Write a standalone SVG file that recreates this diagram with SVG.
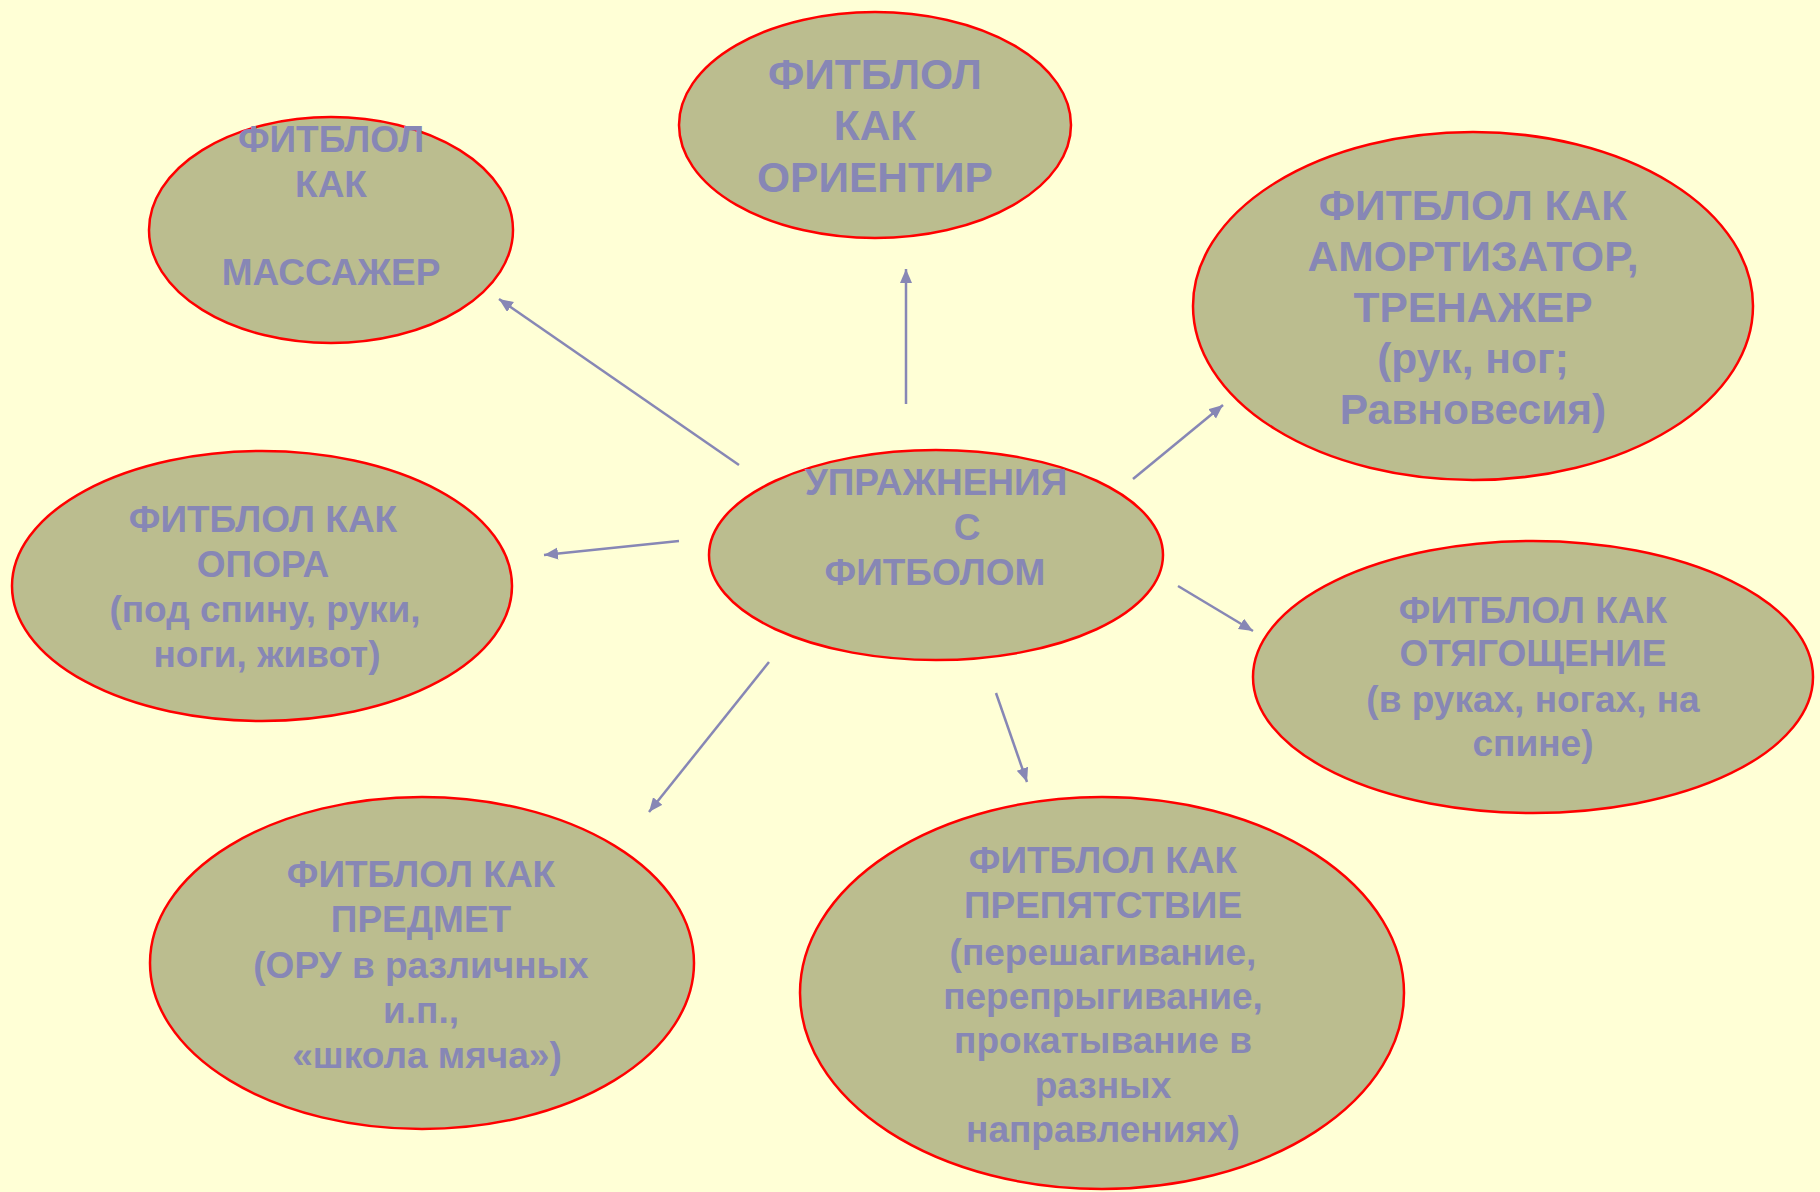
<svg xmlns="http://www.w3.org/2000/svg" width="1820" height="1192" viewBox="0 0 1820 1192">
<style>
.node ellipse{fill:#BBBD8F;stroke:#FF0000;stroke-width:2.5}
.node text{font-family:"Liberation Sans",Arial,sans-serif;font-weight:bold;fill:#8787B5;text-anchor:middle}
.big text{font-size:42.5px}
.small text{font-size:37px}
.conn line{stroke:#8787B5;stroke-width:2.5;marker-end:url(#ah)}
</style>
<defs>
<marker id="ah" markerUnits="userSpaceOnUse" markerWidth="16" markerHeight="14" refX="14" refY="6" orient="auto">
<path d="M0,0 L14,6 L0,12 Z" fill="#8787B5"/>
</marker>
</defs>
<rect width="1820" height="1192" fill="#FFFFD6"/>
<g id="connectors" class="conn">
<line x1="739" y1="465" x2="499" y2="299"/>
<line x1="906" y1="404" x2="906" y2="269"/>
<line x1="1133" y1="479" x2="1223" y2="405"/>
<line x1="1178" y1="586" x2="1253" y2="631"/>
<line x1="679" y1="541" x2="544" y2="555"/>
<line x1="769" y1="662" x2="649" y2="812"/>
<line x1="996" y1="693" x2="1027" y2="782"/>
</g>
<g id="massager" class="node small">
<ellipse cx="331" cy="230" rx="182" ry="113"/>
<text x="331" y="152">ФИТБЛОЛ</text>
<text x="331" y="197">КАК</text>
<text x="331" y="285">МАССАЖЕР</text>
</g>
<g id="orientir" class="node big">
<ellipse cx="875" cy="125" rx="196" ry="113"/>
<text x="875" y="89">ФИТБЛОЛ</text>
<text x="875" y="140">КАК</text>
<text x="875" y="192">ОРИЕНТИР</text>
</g>
<g id="amortizator" class="node big">
<ellipse cx="1473" cy="306" rx="280" ry="174"/>
<text x="1473" y="220">ФИТБЛОЛ КАК</text>
<text x="1473" y="271">АМОРТИЗАТОР,</text>
<text x="1473" y="322">ТРЕНАЖЕР</text>
<text x="1473" y="373">(рук, ног;</text>
<text x="1473" y="424">Равновесия)</text>
</g>
<g id="center" class="node small">
<ellipse cx="936" cy="555" rx="227" ry="105"/>
<text x="936" y="495">УПРАЖНЕНИЯ</text>
<text x="967" y="540">С</text>
<text x="935" y="585">ФИТБОЛОМ</text>
</g>
<g id="opora" class="node small">
<ellipse cx="262" cy="586" rx="250" ry="135"/>
<text x="263" y="532">ФИТБЛОЛ КАК</text>
<text x="263" y="577">ОПОРА</text>
<text x="265" y="622">(под спину, руки,</text>
<text x="267" y="667">ноги, живот)</text>
</g>
<g id="otyagoshchenie" class="node small">
<ellipse cx="1533" cy="677" rx="280" ry="136"/>
<text x="1533" y="623">ФИТБЛОЛ КАК</text>
<text x="1533" y="666">ОТЯГОЩЕНИЕ</text>
<text x="1533" y="712">(в руках, ногах, на</text>
<text x="1533" y="756">спине)</text>
</g>
<g id="predmet" class="node small">
<ellipse cx="422" cy="963" rx="272" ry="166"/>
<text x="421" y="887">ФИТБЛОЛ КАК</text>
<text x="421" y="932">ПРЕДМЕТ</text>
<text x="421" y="978">(ОРУ в различных</text>
<text x="421" y="1023">и.п.,</text>
<text x="427" y="1068">«школа мяча»)</text>
</g>
<g id="prepyatstvie" class="node small">
<ellipse cx="1102" cy="993" rx="302" ry="196"/>
<text x="1103" y="873">ФИТБЛОЛ КАК</text>
<text x="1103" y="918">ПРЕПЯТСТВИЕ</text>
<text x="1103" y="965">(перешагивание,</text>
<text x="1103" y="1009">перепрыгивание,</text>
<text x="1103" y="1053">прокатывание в</text>
<text x="1103" y="1098">разных</text>
<text x="1103" y="1142">направлениях)</text>
</g>
</svg>
